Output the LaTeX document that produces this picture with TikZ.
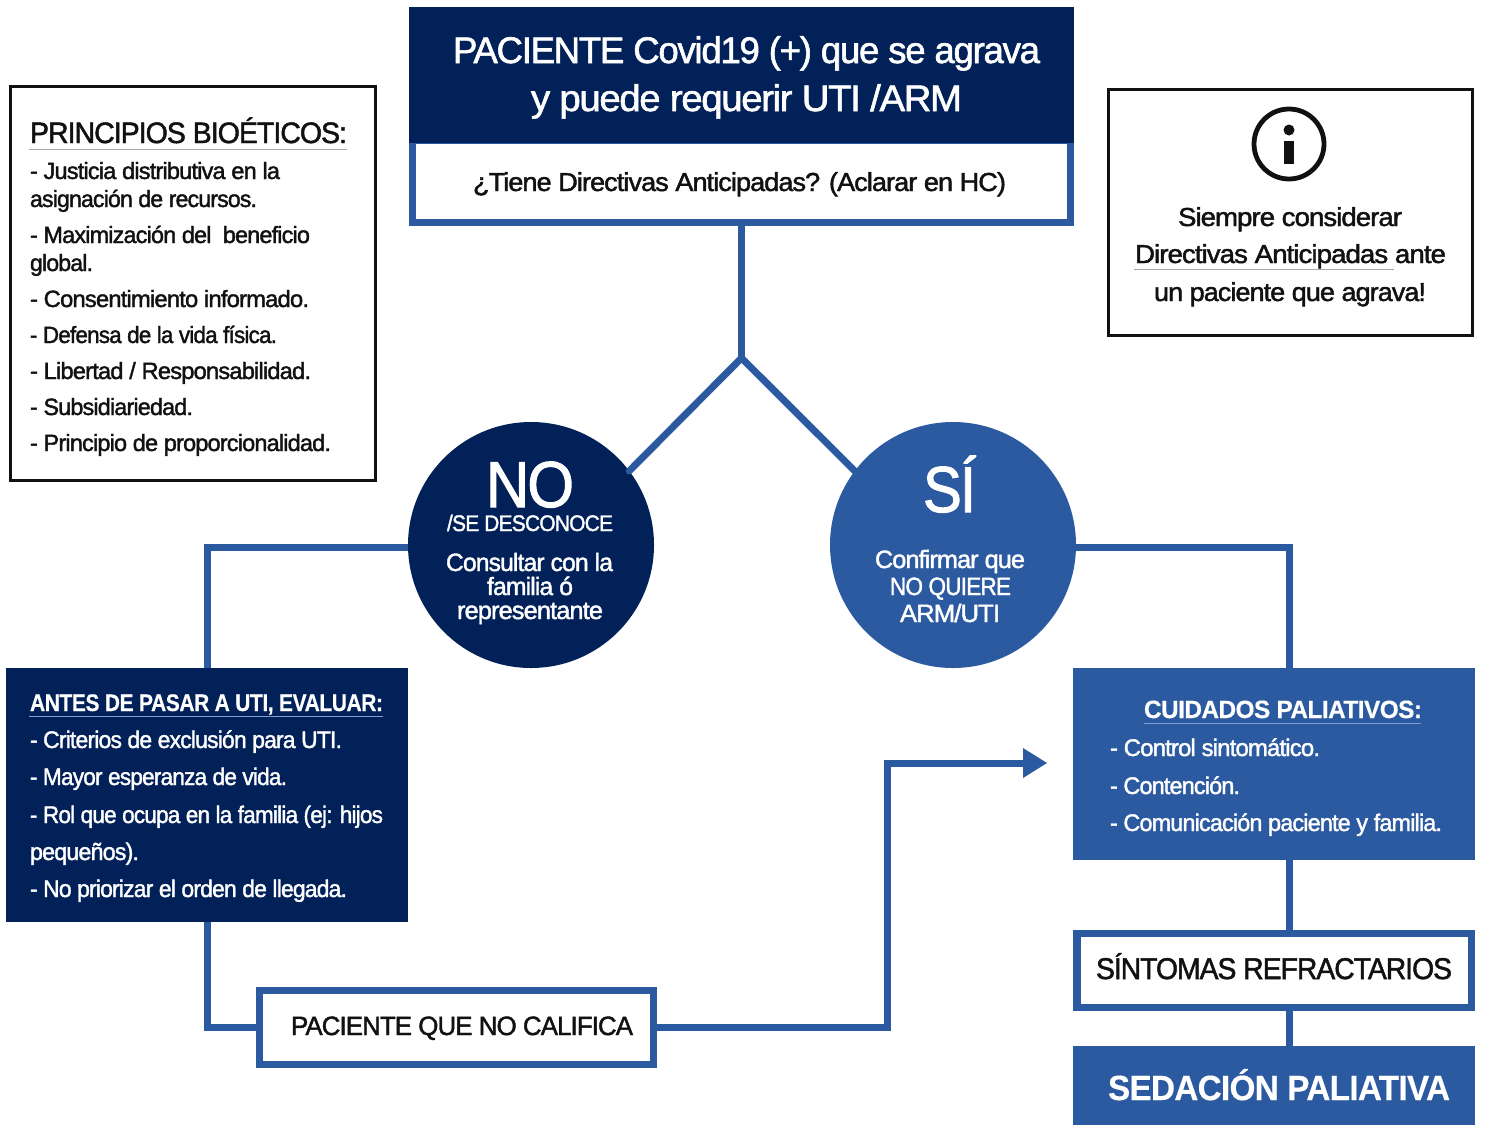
\documentclass[tikz,border=0pt]{standalone}
\usepackage{fontspec}
\usepackage{graphicx}
\setmainfont{Liberation Sans}[FakeBold=1.6,LetterSpace=-3.5]
\newfontfamily\strongf{Liberation Sans Bold}[FakeBold=0.4,LetterSpace=-2]
\usetikzlibrary{arrows.meta}
\definecolor{navy}{HTML}{022159}
\definecolor{midblue}{HTML}{2C5AA0}
\definecolor{ink}{HTML}{111111}
\definecolor{rulegrey}{HTML}{A8A8A8}
\definecolor{ruleblue}{HTML}{7FA0D0}
% width in px, font size in px, text: keeps height, sets the exact width
\newcommand{\fitt}[3]{\resizebox{#1pt}{\height}{\fontsize{#2}{#2}\selectfont #3}}
\tikzset{
  x=1pt,y=-1pt,
  lbl/.style={anchor=base west,inner sep=0pt,outer sep=0pt,text=ink},
  wlbl/.style={lbl,text=white},
  fillbox/.style={rectangle,inner sep=0pt,outer sep=0pt,draw=none},
  navybox/.style={fillbox,fill=navy},
  bluebox/.style={fillbox,fill=midblue},
  framebox/.style={rectangle,inner sep=0pt,outer sep=0pt,draw=midblue,fill=white},
  notebox/.style={rectangle,inner sep=0pt,outer sep=0pt,draw=ink,fill=white,line width=3pt},
  link/.style={draw=midblue,line width=7pt},
  disc/.style={circle,inner sep=0pt,outer sep=0pt,minimum size=246pt},
}
\begin{document}
\begin{tikzpicture}
\useasboundingbox (0,0) rectangle (1485,1125);
\fill[white] (0,0) rectangle (1485,1125);
\clip (0,0) rectangle (1485,1125);

% boxes
\node[framebox,line width=7pt,minimum width=658pt,minimum height=82.5pt] (ask) at (741.5,181.25) {};
\node[navybox,minimum width=665pt,minimum height=136pt] (head) at (741.5,75) {};
\node[notebox,minimum width=365.5pt,minimum height=394.5pt] (princ) at (193,283.5) {};
\node[notebox,minimum width=364.5pt,minimum height=246.5pt] (info) at (1290.5,212.5) {};
\coordinate (fork) at (741.5,358);
\node[disc,fill=navy] (no) at (531,545) {};
\node[disc,fill=midblue] (si) at (953,545) {};
\node[navybox,minimum width=402pt,minimum height=254pt] (antes) at (207,795) {};
\node[bluebox,minimum width=402pt,minimum height=192pt] (cuid) at (1274,764) {};
\node[framebox,line width=7.5pt,minimum width=394.5pt,minimum height=74pt] (sint) at (1274,970.5) {};
\node[bluebox,minimum width=402pt,minimum height=79pt] (seda) at (1274,1085.5) {};
\node[framebox,line width=7pt,minimum width=394pt,minimum height=74pt] (nocal) at (456.5,1027.5) {};
\coordinate (cuidarrow) at (1047,763);
\coordinate (nl) at (207,547);
\coordinate (sr) at (1289,547);
\coordinate (up) at (887,1027.5);

% connectors
\draw[link] (ask.south) -- (fork);
\draw[link,line cap=round] (fork) -- (no.37);
\draw[link,line cap=round] (fork) -- (si.143);
\draw[link] (no.west |- nl) -- (nl) -- (nl |- antes.north);
\draw[link] (si.east |- sr) -- (sr) -- (sr |- cuid.north);
\draw[link] (nl |- antes.south) -- (nl |- nocal.west) -- (nocal.west);
\draw[link] (nocal.east) -- (up) -- (up |- cuidarrow) -- (1026,763);
\fill[midblue] (1023,748) -- (cuidarrow) -- (1023,778) -- cycle;
\draw[link] (sr |- cuid.south) -- (sr |- sint.north);
\draw[link] (sr |- sint.south) -- (sr |- seda.north);

% head
\node[wlbl] (t01) at (453,63) {\fitt{587}{37}{PACIENTE Covid19 (+) que se agrava}};
\node[wlbl] (t02) at (531,111) {\fitt{431}{37}{y puede requerir UTI /ARM}};
\node[lbl] (t03) at (473,191) {\fitt{533}{26}{¿Tiene Directivas Anticipadas? (Aclarar en HC)}};

% principles
\node[lbl] (t04) at (30,143) {\fitt{317}{29.5}{PRINCIPIOS BIOÉTICOS:}};
\draw[rulegrey,line width=1pt] (29,149) -- (347,149);
\node[lbl] (t05) at (30,179) {\fitt{250}{23.5}{- Justicia distributiva en la}};
\node[lbl] (t06) at (30,207) {\fitt{227}{23.5}{asignación de recursos.}};
\node[lbl] (t07) at (30,243) {\fitt{280}{23.5}{- Maximización del~ beneficio}};
\node[lbl] (t08) at (30,271) {\fitt{63}{23.5}{global.}};
\node[lbl] (t09) at (30,307) {\fitt{279}{23.5}{- Consentimiento informado.}};
\node[lbl] (t10) at (30,343) {\fitt{247}{23.5}{- Defensa de la vida física.}};
\node[lbl] (t11) at (30,379) {\fitt{281}{23.5}{- Libertad / Responsabilidad.}};
\node[lbl] (t12) at (30,415) {\fitt{163}{23.5}{- Subsidiariedad.}};
\node[lbl] (t13) at (30,451) {\fitt{301}{23.5}{- Principio de proporcionalidad.}};

% info
\draw[ink,line width=4.8pt] (1289,144) circle[radius=35];
\fill[ink] (1289,130) circle[radius=5.5];
\fill[ink] (1284,141) rectangle (1294,164);
\node[lbl] (t14) at (1178,226) {\fitt{224}{26}{Siempre considerar}};
\node[lbl] (t15) at (1135,263) {\fitt{311}{26}{Directivas Anticipadas ante}};
\draw[rulegrey,line width=1pt] (1134,269.5) -- (1394,269.5);
\node[lbl] (t16) at (1154,301) {\fitt{272}{26}{un paciente que agrava!}};

% circles
\node[wlbl] (t17) at (486,507) {\fitt{88}{65}{NO}};
\node[wlbl] (t18) at (447,531) {\fitt{166}{22.5}{/SE DESCONOCE}};
\node[wlbl] (t19) at (446,571) {\fitt{167}{25}{Consultar con la}};
\node[wlbl] (t20) at (487,595) {\fitt{86}{25}{familia ó}};
\node[wlbl] (t21) at (457,619) {\fitt{146}{25}{representante}};
\node[wlbl] (t22) at (923,512) {\fitt{53}{65}{SÍ}};
\node[wlbl] (t23) at (875,568) {\fitt{150}{25}{Confirmar que}};
\node[wlbl] (t24) at (890,595) {\fitt{121}{25}{NO QUIERE}};
\node[wlbl] (t25) at (900,622) {\fitt{100}{25}{ARM/UTI}};

% antes
\node[wlbl] (t26) at (30,711) {\fitt{353}{24}{\strongf ANTES DE PASAR A UTI, EVALUAR:}};
\draw[ruleblue,line width=1pt] (29,716) -- (383,716);
\node[wlbl] (t27) at (30,748) {\fitt{312}{24}{- Criterios de exclusión para UTI.}};
\node[wlbl] (t28) at (30,785) {\fitt{257}{24}{- Mayor esperanza de vida.}};
\node[wlbl] (t29) at (30,823) {\fitt{353}{24}{- Rol que ocupa en la familia (ej: hijos}};
\node[wlbl] (t30) at (30,860) {\fitt{109}{24}{pequeños).}};
\node[wlbl] (t31) at (30,897) {\fitt{317}{24}{- No priorizar el orden de llegada.}};

% cuidados
\node[wlbl] (t32) at (1144,718) {\fitt{278}{25}{\strongf CUIDADOS PALIATIVOS:}};
\draw[ruleblue,line width=1pt] (1144,723.5) -- (1421,723.5);
\node[wlbl] (t33) at (1110,756) {\fitt{210}{24}{- Control sintomático.}};
\node[wlbl] (t34) at (1110,794) {\fitt{130}{24}{- Contención.}};
\node[wlbl] (t35) at (1110,831) {\fitt{332}{24}{- Comunicación paciente y familia.}};

% lower boxes
\node[lbl] (t36) at (1096,979) {\fitt{356}{30}{SÍNTOMAS REFRACTARIOS}};
\node[wlbl] (t37) at (1108,1100) {\fitt{342}{35}{\strongf SEDACIÓN PALIATIVA}};
\node[lbl] (t38) at (291,1035) {\fitt{342}{26.5}{PACIENTE QUE NO CALIFICA}};
\end{tikzpicture}
\end{document}
